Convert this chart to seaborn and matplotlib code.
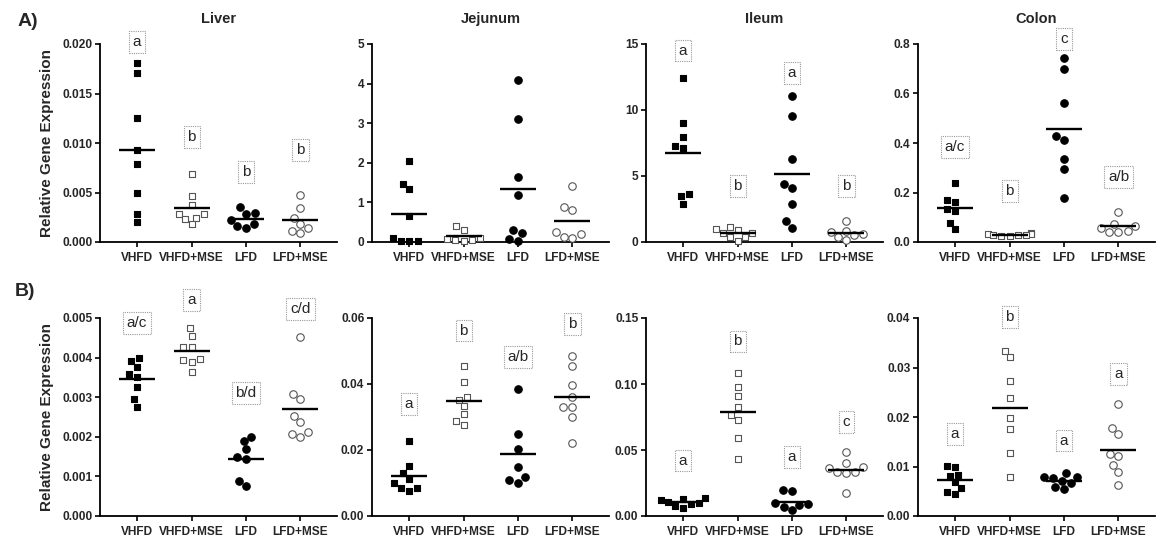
import numpy as np
import pandas as pd
import matplotlib
matplotlib.use('Agg')
import matplotlib.pyplot as plt
import seaborn as sns

groups = ['VHFD', 'VHFD+MSE', 'LFD', 'LFD+MSE']

# ---- A) row ----
liver_A = [
    [0.01807, 0.01706, 0.0125, 0.00929, 0.00787, 0.00497, 0.00287, 0.00203],
    [0.00682, 0.00463, 0.00372, 0.00287, 0.00287, 0.00247, 0.0023, 0.00179],
    [0.00355, 0.00297, 0.00287, 0.0022, 0.00186, 0.00159, 0.00145],
    [0.00475, 0.0034, 0.0024, 0.00182, 0.00138, 0.00114, 0.00094],
]
jejunum_A = [
    [2.05, 1.46, 1.33, 0.66, 0.03, 0.03, 0.03, 0.09],
    [0.40, 0.31, 0.11, 0.06, 0.03, 0.06, 0.08],
    [4.08, 3.11, 1.63, 1.18, 0.23, 0.30, 0.03, 0.08],
    [1.41, 0.89, 0.81, 0.19, 0.09, 0.12, 0.24],
]
ileum_A = [
    [12.41, 8.99, 7.98, 7.27, 7.09, 3.62, 3.50, 2.91],
    [1.15, 1.0, 0.9, 0.7, 0.7, 0.4, 0.35, 0.1],
    [11.07, 9.55, 6.28, 4.43, 4.10, 2.91, 1.57, 1.06],
    [1.6, 0.85, 0.75, 0.6, 0.55, 0.4, 0.15],
]
colon_A = [
    [0.2365, 0.1635, 0.169, 0.132, 0.126, 0.077, 0.051],
    [0.036, 0.033, 0.031, 0.030, 0.029, 0.028, 0.026, 0.025],
    [0.743, 0.699, 0.561, 0.428, 0.412, 0.335, 0.293, 0.176],
    [0.122, 0.072, 0.065, 0.055, 0.045, 0.042, 0.042],
]

# ---- B) row ----
liver_B = [
    [0.00398, 0.00392, 0.003775, 0.00358, 0.0035, 0.00327, 0.00295, 0.00276],
    [0.00474, 0.00454, 0.00427, 0.00427, 0.00393, 0.0039, 0.00396, 0.00363],
    [0.0020, 0.00189, 0.00168, 0.00148, 0.00144, 0.00088, 0.00075],
    [0.00451, 0.00308, 0.00295, 0.00253, 0.00238, 0.00213, 0.0020, 0.00207],
]
jejunum_B = [
    [0.0227, 0.0151, 0.0129, 0.0112, 0.0086, 0.0076, 0.0086, 0.0099],
    [0.0455, 0.0405, 0.0353, 0.0361, 0.0333, 0.0308, 0.0288, 0.0275],
    [0.0385, 0.0249, 0.0203, 0.0148, 0.0117, 0.0101, 0.0109],
    [0.0485, 0.0455, 0.0397, 0.0362, 0.0329, 0.0331, 0.0299, 0.0220],
]
ileum_B = [
    [0.0138, 0.0132, 0.0118, 0.0108, 0.0098, 0.0088, 0.0078, 0.0062],
    [0.1081, 0.0974, 0.0908, 0.0826, 0.0763, 0.0725, 0.0592, 0.0432],
    [0.0198, 0.0186, 0.0095, 0.009, 0.008, 0.0065, 0.0043],
    [0.0483, 0.0399, 0.0369, 0.0361, 0.0336, 0.0331, 0.0325, 0.0178],
]
colon_B = [
    [0.01017, 0.00983, 0.00814, 0.00827, 0.00678, 0.00563, 0.00454, 0.00475],
    [0.03342, 0.03207, 0.02732, 0.02386, 0.0198, 0.01763, 0.01268, 0.0078],
    [0.00868, 0.0078, 0.0078, 0.0076, 0.0071, 0.0066, 0.0059, 0.0054],
    [0.02258, 0.01783, 0.01661, 0.01207, 0.01254, 0.01031, 0.00895, 0.00624],
]

# significance letters and their heights
liver_A_letters = ['a', 'b', 'b', 'b']
liver_A_letter_y = [0.0202, 0.0106, 0.0071, 0.0093]
ileum_A_letters = ['a', 'b', 'a', 'b']
ileum_A_letter_y = [14.5, 4.25, 12.8, 4.25]
colon_A_letters = ['a/c', 'b', 'c', 'a/b']
colon_A_letter_y = [0.384, 0.206, 0.82, 0.263]
liver_B_letters = ['a/c', 'a', 'b/d', 'c/d']
liver_B_letter_y = [0.00487, 0.00545, 0.0031, 0.00522]
jejunum_B_letters = ['a', 'b', 'a/b', 'b']
jejunum_B_letter_y = [0.0339, 0.0562, 0.0481, 0.0581]
ileum_B_letters = ['a', 'b', 'a', 'c']
ileum_B_letter_y = [0.042, 0.1322, 0.0445, 0.0712]
colon_B_letters = ['a', 'b', 'a', 'a']
colon_B_letter_y = [0.0166, 0.0402, 0.01525, 0.02868]

sns.set_style('ticks')
plt.rcParams['font.family'] = ['Liberation Sans', 'DejaVu Sans']

W, H = 1157, 540
fig = plt.figure(figsize=(W / 100, H / 100), dpi=100)

lefts_px = [100, 372, 646, 918]
width_px = 237
rows = [(44, 242), (318, 516)]

# marker style per group: marker, face, edge, size
styles = [
    ('s', 'black', 'black', 5.0),
    ('s', 'white', '#555555', 5.0),
    ('o', 'black', 'black', 5.4),
    ('o', 'white', '#555555', 5.4),
]

panels = [
    (0, 0, liver_A, 0.020, 0.005, '%.3f', 'Liver', liver_A_letters, liver_A_letter_y),
    (0, 1, jejunum_A, 5, 1, '%d', 'Jejunum', None, None),
    (0, 2, ileum_A, 15, 5, '%d', 'Ileum', ileum_A_letters, ileum_A_letter_y),
    (0, 3, colon_A, 0.8, 0.2, '%.1f', 'Colon', colon_A_letters, colon_A_letter_y),
    (1, 0, liver_B, 0.005, 0.001, '%.3f', None, liver_B_letters, liver_B_letter_y),
    (1, 1, jejunum_B, 0.06, 0.02, '%.2f', None, jejunum_B_letters, jejunum_B_letter_y),
    (1, 2, ileum_B, 0.15, 0.05, '%.2f', None, ileum_B_letters, ileum_B_letter_y),
    (1, 3, colon_B, 0.04, 0.01, '%.2f', None, colon_B_letters, colon_B_letter_y),
]

for r, c, vals, top, step, fmt, title, letters, letter_y in panels:
    top_px, bot_px = rows[r]
    ax = fig.add_axes([lefts_px[c] / W, 1 - bot_px / H, width_px / W, (bot_px - top_px) / H])

    df = pd.DataFrame({'group': np.repeat(groups, [len(v) for v in vals]),
                       'value': np.concatenate(vals)})

    for g, (m, fc, ec, s) in zip(groups, styles):
        sub = df[df['group'] == g]
        sns.swarmplot(data=sub, x='group', y='value', order=groups, marker=m,
                      color=fc, edgecolor=ec, linewidth=0.8, size=s, ax=ax,
                      zorder=3, clip_on=False)

    sns.pointplot(data=df, x='group', y='value', order=groups, errorbar=None,
                  color='black', marker='_', linestyle='none', markersize=26,
                  markeredgewidth=1.7, ax=ax, zorder=5)

    ax.set_xlim(-0.68, 3.67)
    ax.set_ylim(0, top)
    ticks = np.arange(0, top + step / 2, step)
    ax.set_yticks(ticks)
    ax.set_yticklabels([fmt % t for t in ticks], fontweight='bold', fontsize=8.6)
    ax.set_xticks(range(4))
    ax.set_xticklabels(groups, fontweight='bold', fontsize=8.6)
    ax.set_xlabel('')
    ax.set_ylabel('')
    for sp in ['top', 'right']:
        ax.spines[sp].set_visible(False)
    for sp in ['left', 'bottom']:
        ax.spines[sp].set_linewidth(1.3)
        ax.spines[sp].set_color('black')
        ax.spines[sp].set_zorder(2)
    ax.tick_params(axis='both', length=3.5, width=1.2, color='black', pad=2)
    ax.tick_params(axis='x', pad=4)

    if c == 0:
        ax.set_ylabel('Relative Gene Expression', fontweight='bold', fontsize=11, labelpad=6)
    if title:
        ax.set_title(title, fontweight='bold', fontsize=10.5, pad=15)

    if letters:
        for i, (lt, ly) in enumerate(zip(letters, letter_y)):
            ax.text(i, ly, lt, ha='center', va='center', fontsize=11, zorder=6,
                    bbox=dict(boxstyle='square,pad=0.25', fc='white', ec='#999999',
                              ls=(0, (1, 1)), lw=0.8))

fig.text(28 / W, 1 - 22 / H, 'A)', fontsize=14, fontweight='bold', ha='center', va='center')
fig.text(25 / W, 1 - 292 / H, 'B)', fontsize=14, fontweight='bold', ha='center', va='center')

fig.savefig('out.png', dpi=100)
